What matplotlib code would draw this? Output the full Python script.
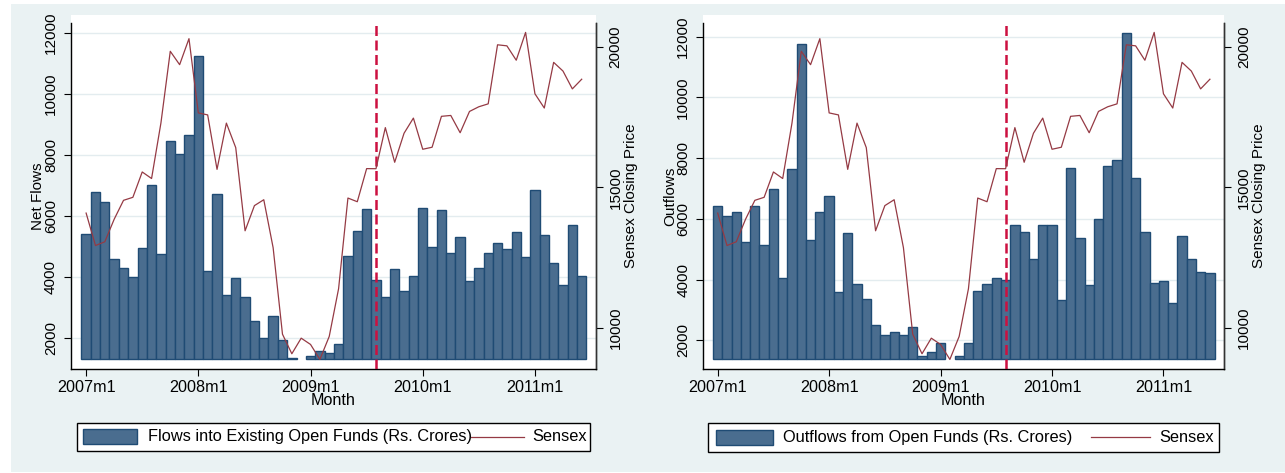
import numpy as np
import matplotlib.pyplot as plt
from matplotlib.patches import Rectangle
from matplotlib.lines import Line2D

plt.rcParams['font.family'] = ['Liberation Sans', 'DejaVu Sans']

# monthly data, 2007m1 .. 2011m6
tick_labels = ["2007m1", "2008m1", "2009m1", "2010m1", "2011m1"]
tick_months = [0, 12, 24, 36, 48]

net_flows = [5390, 6790, 6440, 4570, 4300, 3990, 4950, 7020, 4730, 8460, 8020, 8640,
             11230, 4200, 6710, 3410, 3950, 3330, 2540, 2000, 2720, 1925, 1345, np.nan,
             1400, 1560, 1490, 1790, 4690, 5490, 6220, 3890, 3330, 4250, 3540, 4020,
             6250, 4980, 6180, 4780, 5300, 3845, 4295, 4770, 5115, 4910, 5475, 4660,
             6840, 5380, 4460, 3730, 5695, 4020]

outflows = [6410, 6090, 6235, 5230, 6410, 5140, 6980, 4040, 7650, 11750, 5310, 6235,
            6760, 3590, 5530, 3850, 3370, 2490, 2180, 2270, 2180, 2450, 1480, 1610,
            1920, np.nan, 1480, 1920, 3630, 3850, 4040, 3990, 5800, 5580, 4690, 5800,
            5800, 3330, 7690, 5360, 3810, 6005, 7740, 7950, 12130, 7335, 5577, 3897,
            3940, 3238, 5435, 4690, 4250, 4205]

sensex = [14091, 12938, 13072, 13872, 14544, 14651, 15551, 15319, 17291, 19838, 19363, 20287,
          17649, 17578, 15644, 17287, 16416, 13462, 14356, 14565, 12860, 9788, 9093, 9647,
          9424, 8892, 9709, 11403, 14625, 14494, 15670, 15667, 17127, 15896, 16926, 17465,
          16358, 16430, 17528, 17559, 16945, 17701, 17868, 17971, 20069, 20032, 19521, 20509,
          18328, 17823, 19445, 19136, 18503, 18846]

event_month = 31  # 2009m8

W, H = 1285, 473
BG = '#EAF2F3'
BAR = '#4A6D8F'
BAR_EDGE = '#1F4B74'
LINE = '#953A44'
DASH = '#CC1040'
GRID = '#E3ECEF'

fig = plt.figure(figsize=(W / 100, H / 100), dpi=100)
fig.patch.set_facecolor('white')


def fx(px):
    return px / W


def fy(py):
    return 1 - py / H


fig.add_artist(Rectangle((fx(11), fy(472)), fx(W - 11), (472 - 4) / H,
                         transform=fig.transFigure, facecolor=BG, edgecolor='none', zorder=-10))

panels = [
    dict(vals=net_flows, base=1292, ylab="Net Flows", leg="Flows into Existing Open Funds (Rs. Crores)",
         x0=70.6, x1=596, xlim=(-1.66, 54.53), ylim=(964, 12328),
         box=(76.7, 589.8, 422.7, 451), patch=(83, 137), text_x=147.8, line=(471, 524), sx=532.7),
    dict(vals=outflows, base=1374, ylab="Outflows", leg="Outflows from Open Funds (Rs. Crores)",
         x0=702.7, x1=1224.3, xlim=(-1.615, 54.55), ylim=(1045, 12461),
         box=(707.9, 1219, 422.7, 451.7), patch=(716, 772.5), text_x=782.8, line=(1091.4, 1150.3), sx=1159.3),
]

top_px, bot_px = 22.7, 369.3
x = np.arange(len(sensex))

for p in panels:
    # white plot region
    fig.add_artist(Rectangle((fx(p['x0']), fy(bot_px)), fx(p['x1'] - p['x0']), (bot_px - 15) / H,
                             transform=fig.transFigure, facecolor='white', edgecolor='none', zorder=-5))
    ax = fig.add_axes([fx(p['x0']), fy(bot_px), fx(p['x1'] - p['x0']), (bot_px - top_px) / H])
    ax.patch.set_alpha(0)
    vals = np.array(p['vals'], dtype=float)
    ax.bar(x, vals - p['base'], bottom=p['base'], width=1.0, color=BAR,
           edgecolor=BAR_EDGE, linewidth=1.0, zorder=2)
    ax.set_xlim(*p['xlim'])
    ax.set_ylim(*p['ylim'])
    ax.set_yticks([2000, 4000, 6000, 8000, 10000, 12000])
    ax.yaxis.grid(True, color=GRID, lw=1.0, zorder=0)
    ax.set_axisbelow(True)
    ax.set_xticks(tick_months)
    ax.set_xticklabels(tick_labels)
    ax.tick_params(axis='both', direction='out', length=5, width=0.8, labelsize=11, pad=4)
    ax.tick_params(axis='x', labelsize=11.6, pad=3)
    plt.setp(ax.get_yticklabels(), rotation=90, va='center')
    ax.set_ylabel(p['ylab'], fontsize=11, labelpad=-1)
    ax.set_xlabel("Month", fontsize=11.6, labelpad=-1.5)
    ax.axvline(event_month, color=DASH, lw=1.8, dashes=(4, 1.8), zorder=4)
    ax.spines['top'].set_visible(False)
    for s in ['left', 'bottom', 'right']:
        ax.spines[s].set_linewidth(1.0)
        ax.spines[s].set_color('#333333')

    ax2 = ax.twinx()
    ax2.plot(x, sensex, color=LINE, lw=0.9, zorder=3)
    ax2.set_ylim(8541, 20854)
    ax2.set_yticks([10000, 15000, 20000])
    ax2.tick_params(axis='y', direction='out', length=5, width=0.8, labelsize=11, pad=4)
    plt.setp(ax2.get_yticklabels(), rotation=90, va='center')
    ax2.set_ylabel("Sensex Closing Price", fontsize=11, labelpad=1)
    ax2.spines['top'].set_visible(False)
    ax2.spines['right'].set_linewidth(1.0)
    ax2.spines['right'].set_color('#333333')

    # legend
    bx0, bx1, by0, by1 = p['box']
    fig.add_artist(Rectangle((fx(bx0), fy(by1)), fx(bx1 - bx0), (by1 - by0) / H,
                             transform=fig.transFigure, facecolor='white', edgecolor='black', lw=1.0))
    ymid = (by0 + by1) / 2
    fig.add_artist(Rectangle((fx(p['patch'][0]), fy(ymid + 7.5)), fx(p['patch'][1] - p['patch'][0]), 15 / H,
                             transform=fig.transFigure, facecolor=BAR, edgecolor=BAR_EDGE, lw=1.0))
    fig.text(fx(p['text_x']), fy(ymid), p['leg'], fontsize=11.8, va='center', ha='left')
    fig.add_artist(Line2D([fx(p['line'][0]), fx(p['line'][1])], [fy(ymid), fy(ymid)],
                          transform=fig.transFigure, color=LINE, lw=0.9))
    fig.text(fx(p['sx']), fy(ymid), "Sensex", fontsize=11.8, va='center', ha='left')

plt.savefig("out.png", dpi=100, facecolor=fig.get_facecolor())
plt.close()
